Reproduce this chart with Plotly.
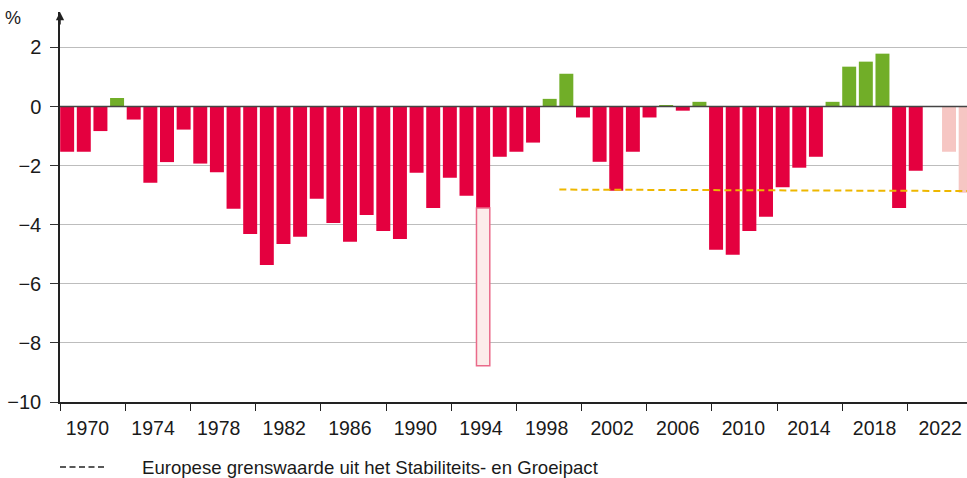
import plotly.graph_objects as go

# ---- data ----
years = list(range(1969, 2024))
balance = [
    -1.53, -1.53, -0.83, 0.29, -0.44, -2.58, -1.88, -0.78, -1.93, -2.22,   # 1969-1978
    -3.46, -4.31, -5.36, -4.65, -4.41, -3.12, -3.94, -4.58, -3.67, -4.21,  # 1979-1988
    -4.48, -2.24, -3.43, -2.41, -3.02, -3.43, -1.70, -1.53, -1.22, 0.26,   # 1989-1998
    1.11, -0.37, -1.87, -2.85, -1.53, -0.37, 0.02, -0.14, 0.16, -4.85,     # 1999-2008
    -5.02, -4.21, -3.73, -2.73, -2.07, -1.70, 0.16, 1.35, 1.52, 1.79,      # 2009-2018
    -3.43, -2.17, 0.0, -1.53, -2.92                                        # 2019-2023
]
forecast_years = [2022, 2023]
oneoff_years = [1994]
oneoff_totals = [-8.77]
limit_x = [1998.58, 2023.5]
limit_values = [-2.81, -2.86]
tick_labels = [str(y) for y in range(1970, 2023, 4)]
y_ticks = [2, 0, -2, -4, -6, -8, -10]
y_labels = ["2", "0", "\u22122", "\u22124", "\u22126", "\u22128", "\u221210"]
legend_text = "Europese grenswaarde uit het Stabiliteits- en Groeipact"

# ---- styling / layout positions ----
RED = "#e4003f"
GREEN = "#71ae28"
PALE = "#f6c6c3"
FONT = "Liberation Sans, Arial, sans-serif"
label_pos = [1970.22 + 3.942 * i for i in range(len(tick_labels))]
tick_marks = [1968.58 + 3.917 * i for i in range(14)]

colors = []
for yr, v in zip(years, balance):
    if yr in forecast_years:
        colors.append(PALE)
    elif v >= 0:
        colors.append(GREEN)
    else:
        colors.append(RED)

fig = go.Figure()
fig.add_trace(go.Bar(x=years, y=balance, marker=dict(color=colors, line=dict(width=0)),
                     width=0.84, showlegend=False))

oneoff_base = [balance[years.index(y)] for y in oneoff_years]
fig.add_trace(go.Bar(x=oneoff_years, y=[t - b for t, b in zip(oneoff_totals, oneoff_base)],
                     base=oneoff_base, width=0.8,
                     marker=dict(color="#fcecea", line=dict(color="#ea6a8a", width=1.5)),
                     showlegend=False))

fig.add_trace(go.Scatter(x=limit_x, y=limit_values, mode="lines",
                         line=dict(color="#eeb700", width=2, dash="7px,4px"),
                         showlegend=False, hoverinfo="skip"))

fig.update_layout(
    width=967, height=478,
    margin=dict(l=60, r=0, t=12, b=76),
    paper_bgcolor="white", plot_bgcolor="white",
    barmode="overlay",
    font=dict(family=FONT, size=19.5, color="#1a1a1a"),
    showlegend=False,
)
fig.update_xaxes(
    range=[1968.57, 2023.08], automargin=False,
    tickvals=label_pos, ticktext=tick_labels, ticks="",
    ticklabelstandoff=8,
    showgrid=False, zeroline=False,
    showline=True, linecolor="#222", linewidth=1.5,
    minor=dict(tickvals=tick_marks, ticks="outside", ticklen=7, tickcolor="#222", tickwidth=1.2, showgrid=False),
    tickfont=dict(size=19.5),
)
fig.update_yaxes(
    range=[-10, 3.2], automargin=False,
    tickvals=y_ticks, ticktext=y_labels,
    ticks="outside", ticklen=8, tickcolor="#333", tickwidth=1,
    ticklabelstandoff=5,
    showgrid=True, gridcolor="#bdbdbd", gridwidth=1,
    zeroline=False,
    showline=True, linecolor="#222", linewidth=1.5,
    tickfont=dict(size=20),
)
# zero reference line drawn over the bars
fig.add_shape(type="line", xref="paper", yref="y", x0=0, x1=1, y0=0, y1=0,
              line=dict(color="#444", width=1.5), layer="above")
# arrow on the y axis
fig.add_annotation(xref="paper", yref="paper", x=0, y=1.0, ax=0, ay=14, axref="pixel", ayref="pixel",
                   text="", showarrow=True, arrowhead=2, arrowsize=1.1, arrowwidth=1.5, arrowcolor="#222")
fig.add_annotation(xref="paper", yref="paper", x=-0.0513, y=0.985, text="%", showarrow=False,
                   font=dict(size=18), xanchor="center", yanchor="middle")
# legend
fig.add_shape(type="line", xref="paper", yref="paper", x0=0.0, x1=0.049, y0=-0.1667, y1=-0.1667,
              line=dict(color="#222", width=1.5, dash="6px,3.5px"))
fig.add_annotation(xref="paper", yref="paper", x=0.0877, y=-0.169, text=legend_text, showarrow=False,
                   xanchor="left", yanchor="middle", font=dict(size=18.6))

fig.write_html(
    "out.html",
    config={"displayModeBar": False},
    post_script="document.body.style.margin='0';document.body.style.padding='0';"
                "document.body.style.overflow='hidden';",
)
